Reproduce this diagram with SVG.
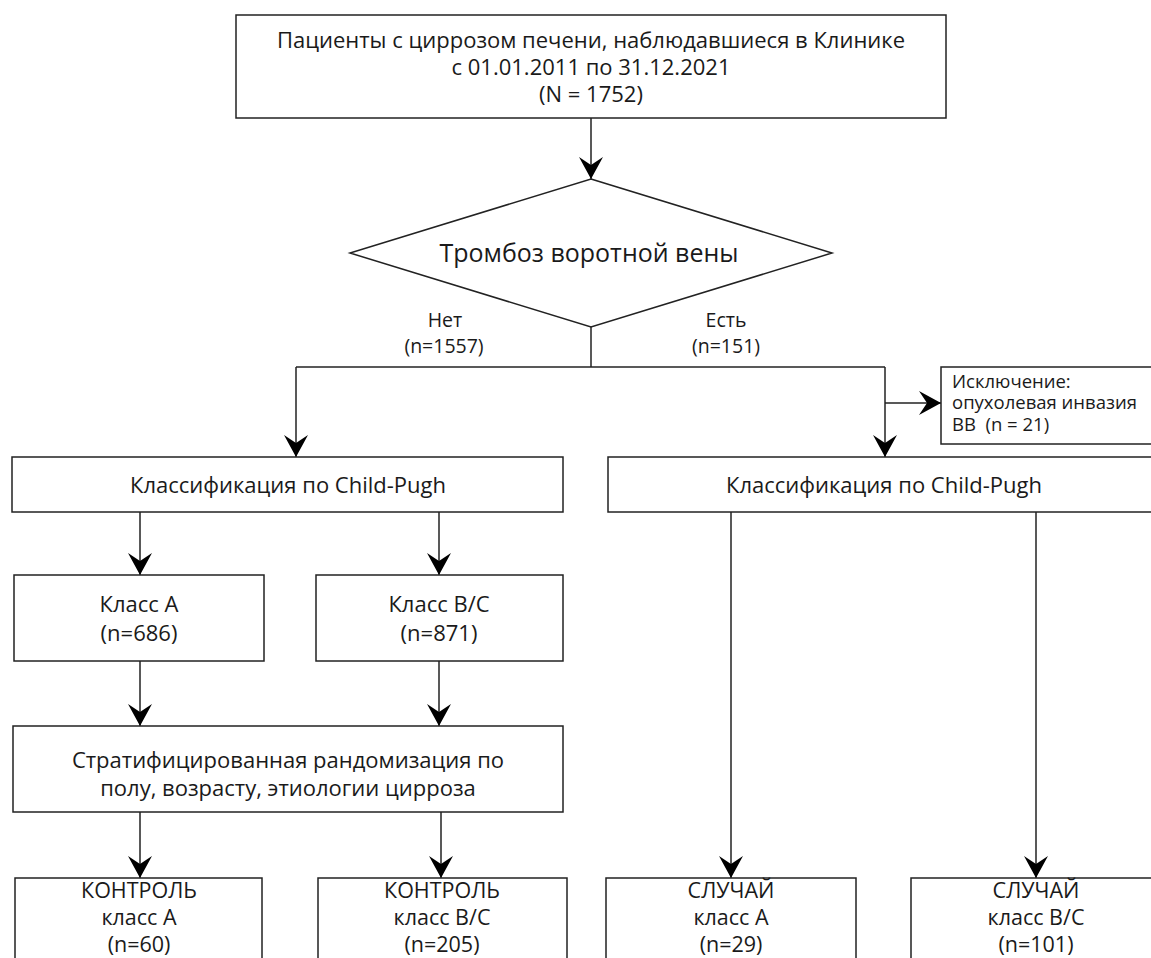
<svg xmlns="http://www.w3.org/2000/svg" width="1151" height="958" viewBox="0 0 1151 958">
<style>
.box{fill:#fff;stroke:#222;stroke-width:1.5}
.ln{fill:none;stroke:#222;stroke-width:1.5}
text{font-family:"Open Sans","Noto Sans",sans-serif;fill:#1a1a1a;text-anchor:middle}
.t22{font-size:22px}
.t21{font-size:21.5px}
.t19{font-size:19.5px}
.t25{font-size:25px}
.t17{font-size:18.5px;text-anchor:start}
</style>
<defs>
<marker id="ah" markerUnits="userSpaceOnUse" markerWidth="26" markerHeight="26" viewBox="-24 -13 26 26" refX="0" refY="0" orient="auto">
<path d="M0,0 L-22,-12 L-14,0 L-22,12 Z" fill="#000"/>
</marker>
</defs>
<rect width="1151" height="958" fill="#fff"/>
<g id="connectors">
<line class="ln" x1="591" y1="118" x2="591" y2="179" marker-end="url(#ah)"/>
<polyline class="ln" points="591,327 591,367"/>
<polyline class="ln" points="296,367 885,367"/>
<line class="ln" x1="296" y1="367" x2="296" y2="457" marker-end="url(#ah)"/>
<line class="ln" x1="885" y1="367" x2="885" y2="457" marker-end="url(#ah)"/>
<line class="ln" x1="885" y1="403" x2="941" y2="403" marker-end="url(#ah)"/>
<line class="ln" x1="140" y1="512" x2="140" y2="575" marker-end="url(#ah)"/>
<line class="ln" x1="439" y1="512" x2="439" y2="575" marker-end="url(#ah)"/>
<line class="ln" x1="140" y1="661" x2="140" y2="726" marker-end="url(#ah)"/>
<line class="ln" x1="439" y1="661" x2="439" y2="726" marker-end="url(#ah)"/>
<line class="ln" x1="140" y1="812" x2="140" y2="878" marker-end="url(#ah)"/>
<line class="ln" x1="441" y1="812" x2="441" y2="878" marker-end="url(#ah)"/>
<line class="ln" x1="731" y1="512" x2="731" y2="878" marker-end="url(#ah)"/>
<line class="ln" x1="1036" y1="512" x2="1036" y2="878" marker-end="url(#ah)"/>
</g>
<g id="n-patients">
<rect class="box" x="236" y="15" width="710" height="103"/>
<text class="t22" x="591" y="48">Пациенты с циррозом печени, наблюдавшиеся в Клинике</text>
<text class="t22" x="591" y="75">с 01.01.2011 по 31.12.2021</text>
<text class="t22" x="591" y="102">(N = 1752)</text>
</g>
<g id="n-decision">
<polygon class="box" points="591,179 832,253 591,327 350,253"/>
<text class="t25" x="589" y="262">Тромбоз воротной вены</text>
</g>
<g id="l-no">
<text class="t19" x="445" y="327">Нет</text>
<text class="t19" x="444" y="353">(n=1557)</text>
</g>
<g id="l-yes">
<text class="t19" x="726" y="327">Есть</text>
<text class="t19" x="726" y="353">(n=151)</text>
</g>
<g id="n-exclusion">
<rect class="box" x="941" y="367" width="214" height="77"/>
<text class="t17" x="952" y="388">Исключение:</text>
<text class="t17" x="952" y="409">опухолевая инвазия</text>
<text class="t17" x="952" y="431">ВВ&#160; (n = 21)</text>
</g>
<g id="n-cp-left">
<rect class="box" x="12" y="457" width="551" height="55"/>
<text class="t22" x="288" y="493">Классификация по Child-Pugh</text>
</g>
<g id="n-cp-right">
<rect class="box" x="608" y="457" width="547" height="55"/>
<text class="t22" x="884" y="493">Классификация по Child-Pugh</text>
</g>
<g id="n-class-a">
<rect class="box" x="14" y="575" width="250" height="86"/>
<text class="t22" x="139" y="612">Класс А</text>
<text class="t22" x="139" y="641">(n=686)</text>
</g>
<g id="n-class-bc">
<rect class="box" x="316" y="575" width="247" height="86"/>
<text class="t22" x="439" y="612">Класс В/С</text>
<text class="t22" x="439" y="641">(n=871)</text>
</g>
<g id="n-strat">
<rect class="box" x="13" y="726" width="550" height="86"/>
<text class="t22" x="288" y="768">Стратифицированная рандомизация по</text>
<text class="t22" x="288" y="796">полу, возрасту, этиологии цирроза</text>
</g>
<g id="n-ctrl-a">
<rect class="box" x="15" y="878" width="247" height="90"/>
<text class="t21" x="139" y="898">КОНТРОЛЬ</text>
<text class="t21" x="139" y="925">класс А</text>
<text class="t21" x="139" y="952">(n=60)</text>
</g>
<g id="n-ctrl-bc">
<rect class="box" x="318" y="878" width="249" height="90"/>
<text class="t21" x="442" y="898">КОНТРОЛЬ</text>
<text class="t21" x="442" y="925">класс В/С</text>
<text class="t21" x="442" y="952">(n=205)</text>
</g>
<g id="n-case-a">
<rect class="box" x="606" y="878" width="250" height="90"/>
<text class="t21" x="731" y="898">СЛУЧАЙ</text>
<text class="t21" x="731" y="925">класс А</text>
<text class="t21" x="731" y="952">(n=29)</text>
</g>
<g id="n-case-bc">
<rect class="box" x="911" y="878" width="244" height="90"/>
<text class="t21" x="1036" y="898">СЛУЧАЙ</text>
<text class="t21" x="1036" y="925">класс В/С</text>
<text class="t21" x="1036" y="952">(n=101)</text>
</g>
</svg>
